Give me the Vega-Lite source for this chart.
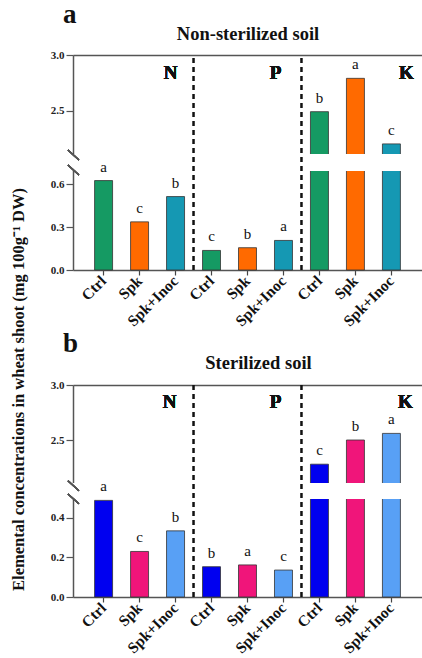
{
  "$schema": "https://vega.github.io/schema/vega-lite/v6.json",
  "padding": {"left": 10, "top": 1, "right": 0, "bottom": 0},
  "bounds": "flush",
  "spacing": 115,
  "config": {"view": {"stroke": null}, "font": "Liberation Serif"},
  "datasets": {
    "nonster": [
      {"key": "N Ctrl", "element": "N", "treatment": "Ctrl", "value": 0.626, "letter": "a"},
      {"key": "N Spk", "element": "N", "treatment": "Spk", "value": 0.337, "letter": "c"},
      {"key": "N Spk+Inoc", "element": "N", "treatment": "Spk+Inoc", "value": 0.514, "letter": "b"},
      {"key": "P Ctrl", "element": "P", "treatment": "Ctrl", "value": 0.137, "letter": "c"},
      {"key": "P Spk", "element": "P", "treatment": "Spk", "value": 0.156, "letter": "b"},
      {"key": "P Spk+Inoc", "element": "P", "treatment": "Spk+Inoc", "value": 0.207, "letter": "a"},
      {"key": "K Ctrl", "element": "K", "treatment": "Ctrl", "value": 2.49, "letter": "b"},
      {"key": "K Spk", "element": "K", "treatment": "Spk", "value": 2.79, "letter": "a"},
      {"key": "K Spk+Inoc", "element": "K", "treatment": "Spk+Inoc", "value": 2.2, "letter": "c"}
    ],
    "ster": [
      {"key": "N Ctrl", "element": "N", "treatment": "Ctrl", "value": 0.488, "letter": "a"},
      {"key": "N Spk", "element": "N", "treatment": "Spk", "value": 0.23, "letter": "c"},
      {"key": "N Spk+Inoc", "element": "N", "treatment": "Spk+Inoc", "value": 0.334, "letter": "b"},
      {"key": "P Ctrl", "element": "P", "treatment": "Ctrl", "value": 0.153, "letter": "b"},
      {"key": "P Spk", "element": "P", "treatment": "Spk", "value": 0.162, "letter": "a"},
      {"key": "P Spk+Inoc", "element": "P", "treatment": "Spk+Inoc", "value": 0.136, "letter": "c"},
      {"key": "K Ctrl", "element": "K", "treatment": "Ctrl", "value": 2.28, "letter": "c"},
      {"key": "K Spk", "element": "K", "treatment": "Spk", "value": 2.5, "letter": "b"},
      {"key": "K Spk+Inoc", "element": "K", "treatment": "Spk+Inoc", "value": 2.56, "letter": "a"}
    ],
    "dividers": [{"key": "N Spk+Inoc"}, {"key": "P Spk+Inoc"}]
  },
  "resolve": {"scale": {"color": "independent", "x": "independent", "y": "independent"}},
  "vconcat": [
    {
      "data": {"name": "nonster"},
      "width": 349,
      "height": 215,
      "title": {"text": "a", "anchor": "start", "frame": "group", "dx": -10, "font": "Liberation Serif", "fontSize": 27, "fontWeight": "bold", "color": "#111", "offset": -5},
      "resolve": {"axis": {"x": "independent"}},
      "layer": [
        {
          "mark": {"type": "bar", "stroke": "#333", "strokeWidth": 0.8},
          "encoding": {
            "x": {"field": "key", "type": "nominal", "sort": null,
              "scale": {"domain": ["N Ctrl", "N Spk", "N Spk+Inoc", "P Ctrl", "P Spk", "P Spk+Inoc", "K Ctrl", "K Spk", "K Spk+Inoc"], "paddingInner": 0.5, "paddingOuter": 0.6},
              "axis": {"orient": "bottom", "title": null, "labelExpr": "split(datum.value, ' ')[1]", "labelAngle": -45, "labelAlign": "right", "labelBaseline": "middle", "labelFont": "Liberation Serif", "labelFontWeight": "bold", "labelFontSize": 15.5, "labelColor": "#111", "labelPadding": 3, "tickSize": 5, "tickColor": "#444", "tickWidth": 1.2, "domainColor": "#555", "domainWidth": 1.5}},
            "y": {"field": "value", "type": "quantitative",
              "scale": {"domain": [0, 0.7, 2.1, 3], "range": [215, 115, 100, 0], "nice": false, "zero": false},
              "axis": {"values": [0, 0.3, 0.6, 2.5, 3], "format": ".1f", "grid": false, "title": "Elemental concentrations in wheat shoot (mg 100g⁻¹ DW)", "titleFont": "Liberation Serif", "titleFontSize": 16.5, "titleFontWeight": "bold", "titleColor": "#111", "titleX": -47, "titleY": 334, "labelFont": "Liberation Serif", "labelFontWeight": "bold", "labelFontSize": 11, "labelColor": "#222", "labelPadding": 2, "tickSize": 7, "tickColor": "#555", "tickWidth": 1.2, "domainColor": "#555", "domainWidth": 1.5}},
            "color": {"field": "treatment", "type": "nominal", "scale": {"domain": ["Ctrl", "Spk", "Spk+Inoc"], "range": ["#159a63", "#ff6a00", "#1598b3"]}, "legend": null}
          }
        },
        {
          "mark": {"type": "rect", "fill": "white", "stroke": "white", "strokeWidth": 2},
          "encoding": {"y": {"datum": 0.7}, "y2": {"datum": 2.1}}
        },
        {
          "data": {"name": "dividers"},
          "mark": {"type": "rule", "strokeDash": [5, 4], "strokeWidth": 2.5, "color": "#111"},
          "encoding": {
            "x": {"field": "key", "type": "nominal", "bandPosition": 1.5,
              "axis": {"orient": "top", "title": "Non-sterilized soil", "labels": false, "ticks": false, "domainColor": "#555", "domainWidth": 1.5, "titleFont": "Liberation Serif", "titleFontSize": 18.5, "titleFontWeight": "bold", "titleColor": "#111", "titlePadding": 12}},
            "y": {"datum": 0},
            "y2": {"datum": 3}
          }
        },
        {
          "mark": {"type": "text", "font": "Liberation Serif", "fontSize": 15, "baseline": "alphabetic", "dy": -9, "color": "#111"},
          "encoding": {
            "x": {"field": "key", "type": "nominal", "axis": null},
            "y": {"field": "value", "type": "quantitative"},
            "text": {"field": "letter"}
          }
        },
        {
          "mark": {"type": "text", "font": "Liberation Serif", "fontSize": 19, "fontWeight": "bold", "baseline": "middle", "dx": -5, "color": "#111"},
          "encoding": {"x": {"datum": "N Spk+Inoc", "type": "nominal", "axis": null}, "y": {"datum": 2.84}, "text": {"value": "N"}}
        },
        {
          "mark": {"type": "text", "font": "Liberation Serif", "fontSize": 19, "fontWeight": "bold", "baseline": "middle", "dx": -8, "color": "#111"},
          "encoding": {"x": {"datum": "P Spk+Inoc", "type": "nominal", "axis": null}, "y": {"datum": 2.84}, "text": {"value": "P"}}
        },
        {
          "mark": {"type": "text", "font": "Liberation Serif", "fontSize": 19, "fontWeight": "bold", "baseline": "middle", "dx": 15, "color": "#111"},
          "encoding": {"x": {"datum": "K Spk+Inoc", "type": "nominal", "axis": null}, "y": {"datum": 2.84}, "text": {"value": "K"}}
        },
        {
          "mark": {"type": "rule", "color": "#555", "strokeWidth": 1.2},
          "encoding": {"x": {"datum": "N Ctrl", "type": "nominal", "bandPosition": -1.48, "axis": null}, "x2": {"datum": "N Ctrl", "bandPosition": -0.87}, "y": {"datum": 2.145}, "y2": {"datum": 1.633}}
        },
        {
          "mark": {"type": "rule", "color": "#555", "strokeWidth": 1.2},
          "encoding": {"x": {"datum": "N Ctrl", "type": "nominal", "bandPosition": -1.48, "axis": null}, "x2": {"datum": "N Ctrl", "bandPosition": -0.87}, "y": {"datum": 1.167}, "y2": {"datum": 0.665}}
        }
      ]
    },
    {
      "data": {"name": "ster"},
      "width": 349,
      "height": 212,
      "title": {"text": "b", "anchor": "start", "frame": "group", "dx": -10, "font": "Liberation Serif", "fontSize": 27, "fontWeight": "bold", "color": "#111", "offset": -5},
      "resolve": {"axis": {"x": "independent"}},
      "layer": [
        {
          "mark": {"type": "bar", "stroke": "#333", "strokeWidth": 0.8},
          "encoding": {
            "x": {"field": "key", "type": "nominal", "sort": null,
              "scale": {"domain": ["N Ctrl", "N Spk", "N Spk+Inoc", "P Ctrl", "P Spk", "P Spk+Inoc", "K Ctrl", "K Spk", "K Spk+Inoc"], "paddingInner": 0.5, "paddingOuter": 0.6},
              "axis": {"orient": "bottom", "title": null, "labelExpr": "split(datum.value, ' ')[1]", "labelAngle": -45, "labelAlign": "right", "labelBaseline": "middle", "labelFont": "Liberation Serif", "labelFontWeight": "bold", "labelFontSize": 15.5, "labelColor": "#111", "labelPadding": 3, "tickSize": 5, "tickColor": "#444", "tickWidth": 1.2, "domainColor": "#555", "domainWidth": 1.5}},
            "y": {"field": "value", "type": "quantitative",
              "scale": {"domain": [0, 0.5, 2.1, 3], "range": [212, 113, 99, 0], "nice": false, "zero": false},
              "axis": {"values": [0, 0.2, 0.4, 2.5, 3], "format": ".1f", "grid": false, "title": null, "labelFont": "Liberation Serif", "labelFontWeight": "bold", "labelFontSize": 11, "labelColor": "#222", "labelPadding": 2, "tickSize": 7, "tickColor": "#555", "tickWidth": 1.2, "domainColor": "#555", "domainWidth": 1.5}},
            "color": {"field": "treatment", "type": "nominal", "scale": {"domain": ["Ctrl", "Spk", "Spk+Inoc"], "range": ["#0000f0", "#f0157a", "#58a0f5"]}, "legend": null}
          }
        },
        {
          "mark": {"type": "rect", "fill": "white", "stroke": "white", "strokeWidth": 2},
          "encoding": {"y": {"datum": 0.5}, "y2": {"datum": 2.1}}
        },
        {
          "data": {"name": "dividers"},
          "mark": {"type": "rule", "strokeDash": [5, 4], "strokeWidth": 2.5, "color": "#111"},
          "encoding": {
            "x": {"field": "key", "type": "nominal", "bandPosition": 1.5,
              "axis": {"orient": "top", "title": "Sterilized soil", "titleX": 185, "labels": false, "ticks": false, "domainColor": "#555", "domainWidth": 1.5, "titleFont": "Liberation Serif", "titleFontSize": 18.5, "titleFontWeight": "bold", "titleColor": "#111", "titlePadding": 13}},
            "y": {"datum": 0},
            "y2": {"datum": 3}
          }
        },
        {
          "mark": {"type": "text", "font": "Liberation Serif", "fontSize": 15, "baseline": "alphabetic", "dy": -9, "color": "#111"},
          "encoding": {
            "x": {"field": "key", "type": "nominal", "axis": null},
            "y": {"field": "value", "type": "quantitative"},
            "text": {"field": "letter"}
          }
        },
        {
          "mark": {"type": "text", "font": "Liberation Serif", "fontSize": 19, "fontWeight": "bold", "baseline": "middle", "dx": -6, "color": "#111"},
          "encoding": {"x": {"datum": "N Spk+Inoc", "type": "nominal", "axis": null}, "y": {"datum": 2.845}, "text": {"value": "N"}}
        },
        {
          "mark": {"type": "text", "font": "Liberation Serif", "fontSize": 19, "fontWeight": "bold", "baseline": "middle", "dx": -8, "color": "#111"},
          "encoding": {"x": {"datum": "P Spk+Inoc", "type": "nominal", "axis": null}, "y": {"datum": 2.845}, "text": {"value": "P"}}
        },
        {
          "mark": {"type": "text", "font": "Liberation Serif", "fontSize": 19, "fontWeight": "bold", "baseline": "middle", "dx": 14, "color": "#111"},
          "encoding": {"x": {"datum": "K Spk+Inoc", "type": "nominal", "axis": null}, "y": {"datum": 2.845}, "text": {"value": "K"}}
        },
        {
          "mark": {"type": "rule", "color": "#555", "strokeWidth": 1.2},
          "encoding": {"x": {"datum": "N Ctrl", "type": "nominal", "bandPosition": -1.48, "axis": null}, "x2": {"datum": "N Ctrl", "bandPosition": -0.87}, "y": {"datum": 2.13}, "y2": {"datum": 1.334}}
        },
        {
          "mark": {"type": "rule", "color": "#555", "strokeWidth": 1.2},
          "encoding": {"x": {"datum": "N Ctrl", "type": "nominal", "bandPosition": -1.48, "axis": null}, "x2": {"datum": "N Ctrl", "bandPosition": -0.87}, "y": {"datum": 0.957}, "y2": {"datum": 0.471}}
        }
      ]
    }
  ]
}
